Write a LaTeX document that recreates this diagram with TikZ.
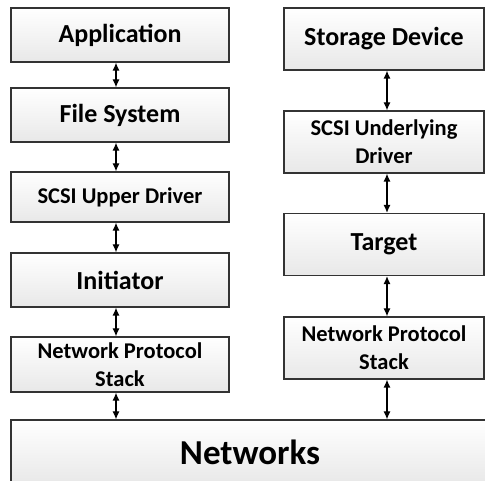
\documentclass[tikz,border=0pt]{standalone}
\usepackage{fontspec}
\setmainfont{Carlito}
\usepackage{tikz}
\usetikzlibrary{arrows.meta}

\begin{document}
\begin{tikzpicture}[x=1pt,y=1pt,node distance=82pt,
	layer box/.style={rectangle, draw=black!80, line width=1.2pt, top color=white, bottom color=black!9, font=\bfseries\fontsize{26}{30}\selectfont, align=center, inner sep=0pt},
	left box/.style={layer box, minimum width=218pt, minimum height=54pt},
	right box/.style={layer box, minimum width=200pt, minimum height=62pt},
	small text/.style={font=\bfseries\fontsize{22.5}{28}\selectfont},
	link/.style={<->, >={Latex[length=8pt,width=7pt]}, line width=1.2pt}]
			\clip (0,0) rectangle (485,481);
			% Nodes
			\node [left box] (app) at (120,446) {Application};
			\node [left box] (fs) [below of=app, yshift=2pt] {File System};
			\node [left box, small text, minimum height=50pt] (upper) [below of=fs] {SCSI Upper Driver};
			\node [left box] (init) [below of=upper, yshift=-1pt] {Initiator};
			\node [left box, small text, minimum height=55pt] (stackl) [below of=init, yshift=-2.5pt] {Network Protocol\\Stack};
			
			\node [right box] (dev) at (384,442) {Storage Device};
			\node [right box, small text] (under) [below of=dev, yshift=-21pt] {SCSI Underlying\\Driver};
			\node [right box] (target) [below of=under, yshift=-20.5pt] {Target};
			\node [right box, small text] (stackr) [below of=target, yshift=-21.5pt] {Network Protocol\\Stack};
			
			\node [layer box, minimum width=478pt, minimum height=64pt, font=\bfseries\fontsize{35}{40}\selectfont] (net) at (250,29) {Networks};
			
			% Links
			\draw [link] ([xshift=-4pt]app.south) -- ([xshift=-4pt]fs.north);
			\draw [link] ([xshift=-4pt]fs.south) -- ([xshift=-4pt]upper.north);
			\draw [link] ([xshift=-4pt]upper.south) -- ([xshift=-4pt]init.north);
			\draw [link] ([xshift=-4pt]init.south) -- ([xshift=-4pt]stackl.north);
			\draw [link] ([xshift=-4pt]stackl.south) -- ([xshift=-4pt]stackl.south |- net.north);
			
			\draw [link] ([xshift=3pt]dev.south) -- ([xshift=3pt]under.north);
			\draw [link] ([xshift=3pt]under.south) -- ([xshift=3pt]target.north);
			\draw [link] ([xshift=3pt]target.south) -- ([xshift=3pt]stackr.north);
			\draw [link] ([xshift=3pt]stackr.south) -- ([xshift=3pt]stackr.south |- net.north);
			
		\end{tikzpicture}
\end{document}
